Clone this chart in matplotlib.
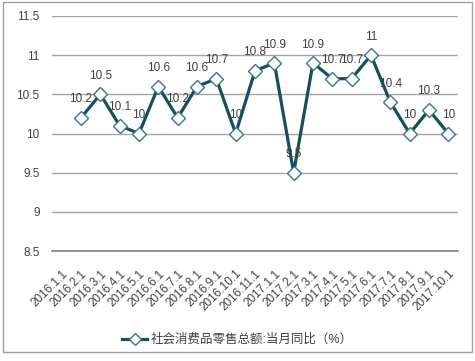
import matplotlib
matplotlib.use("Agg")
import matplotlib.pyplot as plt
import numpy as np
from matplotlib.patches import Rectangle

plt.rcParams['font.family'] = ['Liberation Sans', 'Noto Sans CJK SC', 'DejaVu Sans']

categories = ["2016.1.1", "2016.2.1", "2016.3.1", "2016.4.1", "2016.5.1", "2016.6.1",
              "2016.7.1", "2016.8.1", "2016.9.1", "2016.10.1", "2016.11.1",
              "2017.1.1", "2017.2.1", "2017.3.1", "2017.4.1", "2017.5.1", "2017.6.1",
              "2017.7.1", "2017.8.1", "2017.9.1", "2017.10.1"]
values = [np.nan, 10.2, 10.5, 10.1, 10, 10.6, 10.2, 10.6, 10.7, 10, 10.8,
          10.9, 9.5, 10.9, 10.7, 10.7, 11, 10.4, 10, 10.3, 10]
series_name = "社会消费品零售总额:当月同比（%）"
yticks = [8.5, 9, 9.5, 10, 10.5, 11, 11.5]

fig = plt.figure(figsize=(4.75, 3.61), dpi=100)
ax = fig.add_axes([52/475, 1-251/361, (458-52)/475, (251-16)/361])

x = np.arange(len(categories))
line_color = '#15505e'
ax.plot(x, values, color=line_color, lw=2.3, marker='D', markersize=7.5,
        markerfacecolor='white', markeredgecolor='#3c7585', markeredgewidth=1,
        label=series_name, zorder=3)

for xi, v in zip(x, values):
    if np.isnan(v):
        continue
    ax.annotate(f"{v:g}", (xi, v), xytext=(0, 9), textcoords='offset points',
                ha='center', va='bottom', fontsize=8.5, color='#404040', zorder=4)

ax.set_xlim(-0.5, len(categories) - 0.5)
ax.set_ylim(8.5, 11.5)
ax.set_yticks(yticks)
ax.set_yticklabels([f"{t:g}" for t in yticks])
ax.set_xticks(x)
ax.set_xticklabels(categories, rotation=45, ha='right', va='top', rotation_mode='anchor')
ax.tick_params(axis='both', length=0, labelsize=8.5, labelcolor='#404040')
ax.tick_params(axis='y', pad=9)
ax.tick_params(axis='x', pad=12)

ax.grid(axis='y', color='#a6a6a6', lw=1)
ax.set_axisbelow(True)
for s in ['top', 'right', 'left']:
    ax.spines[s].set_visible(False)
ax.spines['bottom'].set_color('#808080')
ax.spines['bottom'].set_linewidth(1.2)

leg = fig.legend(loc='center', bbox_to_anchor=(0.5, 1-340/361), frameon=False,
                 fontsize=9, handlelength=2.0, handletextpad=0.3, markerscale=0.75)
for t in leg.get_texts():
    t.set_color('#404040')

fig.patches.append(Rectangle((3/475, 1-352/361), 469/475, 350/361, transform=fig.transFigure,
                             fill=False, edgecolor='#a0a0a0', lw=1))

fig.savefig("out.png", dpi=100)
